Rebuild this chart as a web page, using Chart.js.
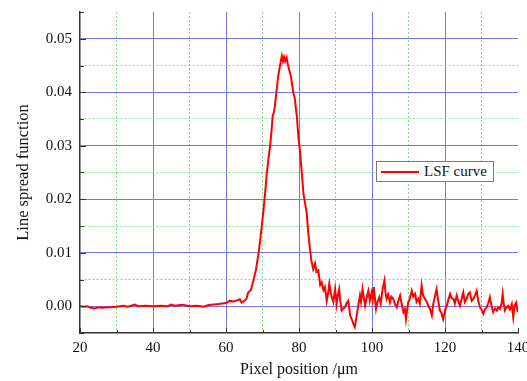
<!DOCTYPE html>
<html>
<head>
<meta charset="utf-8">
<script src="https://cdn.jsdelivr.net/npm/chart.js@4.4.1/dist/chart.umd.min.js"></script>
<style>
  html, body { margin: 0; padding: 0; background: #fff; }
  #wrap { position: relative; width: 527px; height: 381px; }
  #legend {
    position: absolute; left: 376px; top: 161px; width: 116px; height: 19px;
    border: 1px solid #7a7a7a; background: #fff; box-sizing: content-box;
    font: 15px "Liberation Serif", "Times New Roman", serif; color: #111;
    display: flex; align-items: center;
  }
  #legend .swatch { display: inline-block; width: 38px; height: 0; border-top: 2px solid #ff0000; margin: 0 5px 0 4px; }
</style>
</head>
<body>
<div id="wrap">
  <canvas id="lsf" width="527" height="381"></canvas>
  <div id="legend"></div>
</div>
<script>
// x in micrometres
const positions = [
  20, 21, 22, 23, 24, 25, 26, 28, 30, 31, 32, 33, 34, 35, 36, 38, 40, 42, 44, 45,
  46, 48, 50, 52, 54, 55, 56, 58, 59, 60, 61, 62, 63, 63.8, 64.3, 65, 65.6, 66.1, 66.8, 67.5,
  68.2, 68.8, 69.3, 69.8, 70.2, 70.7, 71.2, 71.7, 72.1, 72.5, 72.8, 73.1, 73.4, 73.8, 74.3, 74.8, 75.3, 75.6, 75.9, 76.2,
  76.6, 77.0, 77.5, 77.9, 78.4, 78.8, 79.4, 79.8, 80.3, 80.7, 81.2, 81.6, 82.1, 82.5, 83.0, 83.4, 83.9, 84.4, 84.8, 85.3,
  85.8, 86.2, 86.7, 87.1, 87.6, 88.0, 88.3, 88.7, 89.0, 89.4, 89.9, 90.3, 90.6, 91.0, 91.3, 91.7, 92.1, 92.6, 93.0, 93.5,
  94.0, 94.5, 94.9, 95.3, 95.8, 96.2, 96.7, 97.0, 97.4, 97.7, 98.1, 98.5, 99.0, 99.4, 99.9, 100.2, 100.5, 100.8, 101.1, 101.5,
  102.0, 102.4, 102.9, 103.4, 103.7, 104.0, 104.4, 104.9, 105.3, 105.8, 106.3, 106.8, 107.2, 107.7, 108.1, 108.6, 109.0, 109.3, 109.6, 109.9,
  110.4, 110.9, 111.3, 111.8, 112.2, 112.7, 113.1, 113.6, 114.0, 114.5, 115.0, 115.4, 115.9, 116.4, 116.8, 117.3, 117.7, 118.1, 118.6, 119.0,
  119.5, 120.0, 120.5, 120.9, 121.4, 121.8, 122.3, 122.7, 123.2, 123.6, 124.1, 124.5, 125.0, 125.4, 125.9, 126.3, 126.8, 127.3, 127.8, 128.2,
  128.7, 129.1, 129.6, 130.0, 130.5, 131.0, 131.4, 131.8, 132.3, 132.7, 133.2, 133.7, 134.2, 134.6, 135.1, 135.5, 135.8, 136.1, 136.4, 136.8,
  137.3, 137.8, 138.3, 138.7, 139.1, 139.5, 139.9
];
const lsfValues = [
  0.0000, -0.0001, 0.0000, -0.0003, -0.0004, -0.0002, -0.0003, -0.0002, -0.0001, 0.0000, 0.0001, -0.0001, 0.0001, 0.0003, 0.0000, 0.0001, 0.0000, 0.0001, 0.0000, 0.0003,
  0.0001, 0.0003, 0.0000, 0.0001, -0.0001, 0.0002, 0.0003, 0.0004, 0.0005, 0.0006, 0.0010, 0.0009, 0.0011, 0.0013, 0.0007, 0.0010, 0.0014, 0.0026, 0.0030, 0.0048,
  0.0068, 0.0094, 0.0120, 0.0150, 0.0175, 0.0210, 0.0250, 0.0280, 0.0300, 0.0330, 0.0356, 0.0362, 0.0374, 0.0400, 0.0430, 0.0450, 0.0468, 0.0458, 0.0466, 0.0458,
  0.0465, 0.0450, 0.0437, 0.0425, 0.0400, 0.0390, 0.0356, 0.0320, 0.0287, 0.0255, 0.0212, 0.0195, 0.0175, 0.0140, 0.0107, 0.0085, 0.0069, 0.0080, 0.0064, 0.0067,
  0.0040, 0.0045, 0.0030, 0.0036, 0.0010, 0.0026, 0.0042, 0.0025, 0.0017, 0.0008, 0.0032, 0.0004, 0.0020, 0.0032, 0.0010, -0.0008, -0.0004, -0.0002, 0.0005, 0.0010,
  -0.0017, -0.0025, -0.0033, -0.0039, -0.0017, 0.0000, 0.0020, 0.0008, 0.0032, 0.0018, 0.0001, 0.0015, 0.0029, 0.0010, 0.0026, 0.0012, 0.0036, 0.0015, -0.0005, 0.0008,
  0.0017, 0.0005, 0.0032, 0.0048, 0.0025, 0.0014, 0.0022, 0.0007, 0.0018, 0.0014, 0.0004, -0.0002, 0.0010, 0.0020, 0.0005, -0.0011, -0.0005, -0.0024, -0.0008, 0.0007,
  0.0015, 0.0029, 0.0018, 0.0023, 0.0008, 0.0014, 0.0005, 0.0039, 0.0020, 0.0014, 0.0008, 0.0001, -0.0005, -0.0017, 0.0005, 0.0020, 0.0032, 0.0012, -0.0008, -0.0012,
  -0.0024, -0.0008, 0.0001, 0.0012, 0.0023, 0.0015, 0.0014, 0.0005, 0.0020, 0.0010, 0.0001, 0.0012, 0.0026, 0.0008, 0.0014, 0.0022, 0.0026, 0.0010, 0.0014, 0.0020,
  0.0029, 0.0010, -0.0002, -0.0006, -0.0014, -0.0005, -0.0002, 0.0005, 0.0017, 0.0002, -0.0011, -0.0004, -0.0008, -0.0002, -0.0005, 0.0005, 0.0023, 0.0005, -0.0008, -0.0003,
  0.0001, -0.0006, 0.0004, -0.0021, 0.0002, 0.0007, -0.0011
];
const seriesLabel = "LSF curve";
const xTickLabels = [20, 40, 60, 80, 100, 120, 140];
const yTickLabels = [0.00, 0.01, 0.02, 0.03, 0.04, 0.05];

const serif = "'Liberation Serif', 'Times New Roman', serif";
const majorBlue = "#7676e2";
const minorGreen = "#7ee07e";
const clear = "rgba(0,0,0,0)";

function isXMajor(v) { return xTickLabels.includes(Math.round(v)); }
function isYMajor(v) { return yTickLabels.some(t => Math.abs(t - v) < 1e-6); }

// short inward tick marks on the left and bottom axes
const inwardTicks = {
  id: "inwardTicks",
  afterDraw(chart) {
    const { ctx, chartArea, scales } = chart;
    ctx.save();
    ctx.strokeStyle = "#333";
    ctx.lineWidth = 1;
    ctx.beginPath();
    scales.x.ticks.forEach(t => {
      const px = Math.round(scales.x.getPixelForValue(t.value)) + 0.5;
      const len = isXMajor(t.value) ? 5 : 3;
      ctx.moveTo(px, chartArea.bottom);
      ctx.lineTo(px, chartArea.bottom - len);
    });
    scales.y.ticks.forEach(t => {
      const py = Math.round(scales.y.getPixelForValue(t.value)) + 0.5;
      const len = isYMajor(t.value) ? 6 : 4;
      ctx.moveTo(chartArea.left, py);
      ctx.lineTo(chartArea.left + len, py);
    });
    ctx.stroke();
    ctx.restore();
  }
};

const points = positions.map((x, i) => ({ x: x, y: lsfValues[i] }));

new Chart(document.getElementById("lsf"), {
  type: "line",
  data: {
    datasets: [{
      label: seriesLabel,
      data: points,
      borderColor: "#ff0000",
      borderWidth: 2,
      pointRadius: 0,
      tension: 0,
      fill: false
    }]
  },
  options: {
    responsive: false,
    animation: false,
    layout: { padding: { top: 12, right: 9, left: 0, bottom: 0 } },
    plugins: {
      legend: { display: false },
      tooltip: { enabled: false }
    },
    scales: {
      x: {
        type: "linear",
        min: 20,
        max: 140,
        afterFit: s => { s.height = 48; s.paddingLeft = 0; s.paddingRight = 0; },
        ticks: {
          stepSize: 10,
          autoSkip: false,
          maxRotation: 0,
          padding: 6,
          color: "#111",
          font: { family: serif, size: 15 },
          callback: v => isXMajor(v) ? String(v) : ""
        },
        grid: {
          drawTicks: false,
          lineWidth: 1,
          color: c => (c.tick && (c.tick.value <= 20 || c.tick.value >= 140)) ? clear
            : (c.tick && isXMajor(c.tick.value) ? majorBlue : minorGreen)
        },
        border: {
          color: "#333",
          width: 1.5,
          dash: c => (c.tick && !isXMajor(c.tick.value)) ? [2, 2] : []
        },
        title: {
          display: true,
          text: "Pixel position /\u03bcm",
          color: "#111",
          font: { family: serif, size: 16 },
          padding: { top: 0, bottom: 2 }
        }
      },
      y: {
        type: "linear",
        min: -0.005,
        max: 0.055,
        afterFit: s => { s.width = 80; s.paddingTop = 0; s.paddingBottom = 0; },
        ticks: {
          stepSize: 0.005,
          autoSkip: false,
          padding: 8,
          color: "#111",
          font: { family: serif, size: 15 },
          callback: v => isYMajor(v) ? v.toFixed(2) : ""
        },
        grid: {
          drawTicks: false,
          lineWidth: 1,
          color: c => (c.tick && (c.tick.value < -0.004 || c.tick.value > 0.054)) ? clear
            : (c.tick && isYMajor(c.tick.value) ? majorBlue : minorGreen)
        },
        border: {
          color: "#333",
          width: 1.5,
          dash: c => (c.tick && !isYMajor(c.tick.value)) ? [2, 2] : []
        },
        title: {
          display: true,
          text: "Line spread function",
          color: "#111",
          font: { family: serif, size: 16.5 },
          padding: { top: 14, bottom: 0 }
        }
      }
    }
  },
  plugins: [inwardTicks]
});

// legend box placed inside the plot like the original
const legend = document.getElementById("legend");
legend.innerHTML = '<span class="swatch"></span><span>' + seriesLabel + '</span>';
</script>
</body>
</html>
